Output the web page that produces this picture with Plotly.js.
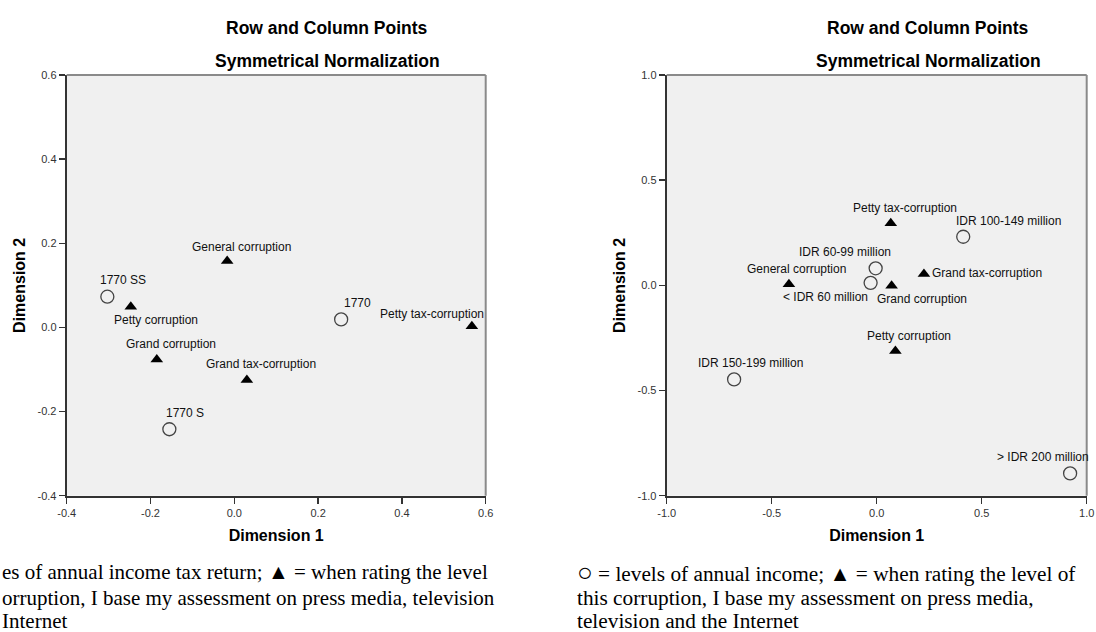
<!DOCTYPE html>
<html>
<head>
<meta charset="utf-8">
<script src="https://cdn.plot.ly/plotly-3.0.1.min.js"></script>
<style>
html,body{margin:0;padding:0;background:#fff;overflow:hidden;}
#chart{width:1096px;height:632px;}
</style>
</head>
<body>
<div id="chart"></div>
<script>
// ---------- Data: left chart (income tax return levels) ----------
const leftRowLabels = ['1770 SS', '1770', '1770 S'];
const leftRowX = [-0.303, 0.255, -0.155];
const leftRowY = [0.073, 0.019, -0.242];

const leftColLabels = ['General corruption', 'Petty corruption', 'Petty tax-corruption', 'Grand corruption', 'Grand tax-corruption'];
const leftColX = [-0.017, -0.247, 0.567, -0.185, 0.030];
const leftColY = [0.158, 0.049, 0.003, -0.076, -0.125];

const leftTicks = [-0.4, -0.2, 0.0, 0.2, 0.4, 0.6];

// ---------- Data: right chart (annual income levels) ----------
const rightRowLabels = ['IDR 100-149 million', 'IDR 60-99 million', '< IDR 60 million', 'IDR 150-199 million', '> IDR 200 million'];
const rightRowX = [0.412, -0.005, -0.029, -0.679, 0.921];
const rightRowY = [0.231, 0.081, 0.012, -0.447, -0.894];

const rightColLabels = ['Petty tax-corruption', 'General corruption', 'Grand corruption', 'Grand tax-corruption', 'Petty corruption'];
const rightColX = [0.067, -0.418, 0.071, 0.225, 0.089];
const rightColY = [0.295, 0.005, -0.002, 0.054, -0.312];

const rightTicks = [-1.0, -0.5, 0.0, 0.5, 1.0];

// ---------- Texts ----------
const titleLine1 = 'Row and Column Points';
const titleLine2 = 'Symmetrical Normalization';
const xTitle = 'Dimension 1';
const yTitle = 'Dimension 2';
const leftCaption = [
  'es of annual income tax return; \u25B2 = when rating the level',
  'orruption, I base my assessment on press media, television',
  'Internet'
];
const rightCaption = [
  '<span style="font-size:26px">\u25CB</span> = levels of annual income; \u25B2 = when rating the level of',
  'this corruption, I base my assessment on press media,',
  'television and the Internet'
];

// ---------- Label placement (pixel offsets, styling only) ----------
const labelOffsetsLeft = {
  '1770 SS': [16, 17], '1770': [16, 16], '1770 S': [16, 16],
  'General corruption': [14, 14], 'Petty corruption': [25, -13],
  'Petty tax-corruption': [-40, 12], 'Grand corruption': [14, 15],
  'Grand tax-corruption': [14, 16]
};
const labelOffsetsRight = {
  'IDR 100-149 million': [45, 16], 'IDR 60-99 million': [-31, 16],
  '< IDR 60 million': [-45, -14], 'IDR 150-199 million': [16, 16],
  '> IDR 200 million': [-27, 16],
  'Petty tax-corruption': [14, 15], 'General corruption': [8, 15],
  'Grand corruption': [30, -13], 'Grand tax-corruption': [63, 1],
  'Petty corruption': [14, 15]
};

const W = 1096, H = 632;
const px = v => v / W;
const py = v => 1 - v / H;

const FONT = 'Liberation Sans, Arial, sans-serif';
const SERIF = 'Liberation Serif, Times New Roman, serif';

const circleMarker = {symbol: 'circle-open', size: 13, color: '#444', line: {width: 1.3, color: '#444'}};
const triMarker = {symbol: 'triangle-up', size: 11, color: '#000'};

const traces = [
  {type: 'scatter', mode: 'markers', x: leftRowX, y: leftRowY, xaxis: 'x', yaxis: 'y', marker: circleMarker, hoverinfo: 'skip', cliponaxis: false},
  {type: 'scatter', mode: 'markers', x: leftColX, y: leftColY, xaxis: 'x', yaxis: 'y', marker: triMarker, hoverinfo: 'skip', cliponaxis: false},
  {type: 'scatter', mode: 'markers', x: rightRowX, y: rightRowY, xaxis: 'x2', yaxis: 'y2', marker: circleMarker, hoverinfo: 'skip', cliponaxis: false},
  {type: 'scatter', mode: 'markers', x: rightColX, y: rightColY, xaxis: 'x2', yaxis: 'y2', marker: triMarker, hoverinfo: 'skip', cliponaxis: false}
];

const annotations = [];
function addLabels(labels, xs, ys, xref, yref, offsets) {
  labels.forEach((t, i) => {
    const o = offsets[t] || [0, 14];
    annotations.push({
      x: xs[i], y: ys[i], xref: xref, yref: yref, text: t, showarrow: false,
      xanchor: 'center', yanchor: 'middle', xshift: o[0], yshift: o[1],
      font: {family: FONT, size: 12, color: '#111'}
    });
  });
}
addLabels(leftRowLabels, leftRowX, leftRowY, 'x', 'y', labelOffsetsLeft);
addLabels(leftColLabels, leftColX, leftColY, 'x', 'y', labelOffsetsLeft);
addLabels(rightRowLabels, rightRowX, rightRowY, 'x2', 'y2', labelOffsetsRight);
addLabels(rightColLabels, rightColX, rightColY, 'x2', 'y2', labelOffsetsRight);

// Titles
[327, 928].forEach(cx => {
  annotations.push({x: px(cx), y: py(28), xref: 'paper', yref: 'paper', text: titleLine1, showarrow: false,
    xanchor: 'center', yanchor: 'middle', font: {family: FONT, size: 17.5, color: '#000', weight: 'bold'}});
  annotations.push({x: px(cx), y: py(61), xref: 'paper', yref: 'paper', text: titleLine2, showarrow: false,
    xanchor: 'center', yanchor: 'middle', font: {family: FONT, size: 17.5, color: '#000', weight: 'bold'}});
});

// Captions
const capY = [572, 598, 621];
leftCaption.forEach((t, i) => {
  annotations.push({x: 0, y: py(capY[i]), xref: 'paper', yref: 'paper', text: t, showarrow: false,
    xanchor: 'left', yanchor: 'middle', font: {family: SERIF, size: 21, color: '#000'}});
});
rightCaption.forEach((t, i) => {
  annotations.push({x: px(575), y: py(capY[i]), xref: 'paper', yref: 'paper', text: t, showarrow: false,
    xanchor: 'left', yanchor: 'middle', font: {family: SERIF, size: 21.3, color: '#000'}});
});

// Frame lines (top and right, gray)
const shapes = [];
[['x', 'y'], ['x2', 'y2']].forEach(([xa, ya]) => {
  shapes.push({type: 'line', xref: xa + ' domain', yref: ya + ' domain', x0: 0, x1: 1, y0: 1, y1: 1, line: {color: '#8a8a8a', width: 2}});
  shapes.push({type: 'line', xref: xa + ' domain', yref: ya + ' domain', x0: 1, x1: 1, y0: 0, y1: 1, line: {color: '#8a8a8a', width: 2}});
});

function axis(domain, ticks, anchor, isY) {
  return {
    domain: domain, range: [ticks[0], ticks[ticks.length - 1]], anchor: anchor,
    tickmode: 'array', tickvals: ticks, ticktext: ticks.map(v => v.toFixed(1)),
    showgrid: false, zeroline: false, showline: true, linecolor: '#333', linewidth: 2,
    ticks: 'outside', ticklen: 6, tickwidth: 1.5, tickcolor: '#333',
    tickfont: {family: FONT, size: 11, color: '#333'},
    title: {text: isY ? yTitle : xTitle, font: {family: FONT, size: 16, color: '#000', weight: 'bold'}, standoff: isY ? 8 : 12},
    fixedrange: true
  };
}

const yDom = [1 - 495.7 / H, 1 - 75 / H];
const layout = {
  width: W, height: H,
  margin: {l: 0, r: 0, t: 0, b: 0},
  paper_bgcolor: '#fff', plot_bgcolor: '#f0f0f0',
  showlegend: false,
  xaxis: axis([px(66.7), px(485.7)], leftTicks, 'y', false),
  yaxis: axis(yDom, leftTicks, 'x', true),
  xaxis2: axis([px(666.7), px(1086.7)], rightTicks, 'y2', false),
  yaxis2: axis(yDom, rightTicks, 'x2', true),
  annotations: annotations,
  shapes: shapes
};

Plotly.newPlot('chart', traces, layout, {displayModeBar: false, staticPlot: true});
</script>
</body>
</html>
